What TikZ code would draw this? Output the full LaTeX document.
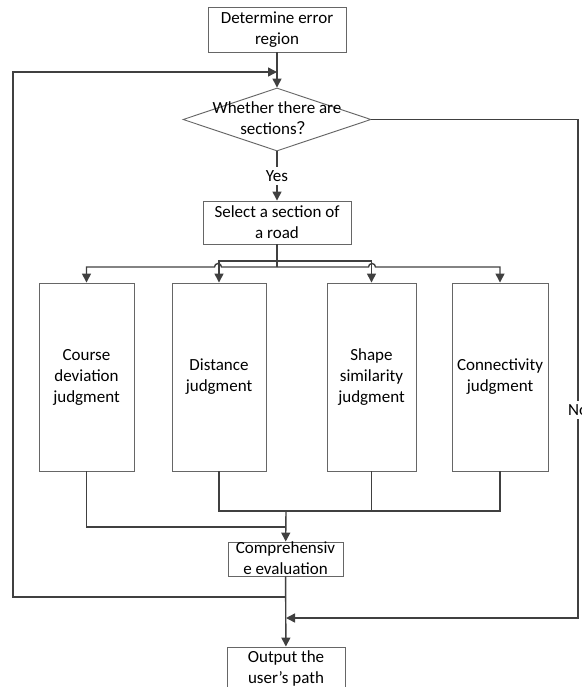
\documentclass[tikz,border=0pt]{standalone}
\usepackage{fontspec}
\setmainfont{Carlito}
\newfontfamily\cjk{Noto Sans CJK SC}
\usetikzlibrary{
    arrows.meta,
    shapes.geometric
}
\tikzset{
    box/.style={draw=black!60, line width=0.9pt, align=center, inner sep=0pt},
    ln/.style={draw=black!75, line width=1.4pt},
    arr/.style={ln, -{Triangle[length=9pt,width=9pt]}}
}

\begin{document}
\begin{tikzpicture}[x=1pt, y=-1pt, font=\fontsize{17}{21}\selectfont]
                        \useasboundingbox (0,0) rectangle (581,687);
                        \node[box, minimum width=138pt, minimum height=45pt] (top) at (277,29.5) {Determine error\\region};
                        \node[box, shape=diamond, minimum width=188pt, minimum height=63pt] (q) at (277,119.5) {};
                        \node[align=center] (qt) at (277,118.5) {Whether there are\\sections{\cjk ？}};
                        \node[box, minimum width=148pt, minimum height=43pt] (sel) at (277,222.5) {Select a section of\\a road};
                        \node[box, minimum width=95pt, minimum height=188pt] (b1) at (86.5,377) {Course\\deviation\\judgment};
                        \node[box, minimum width=94pt, minimum height=188pt] (b2) at (219,377) {Distance\\judgment};
                        \node[box, minimum width=89pt, minimum height=188pt] (b3) at (371.5,377) {Shape\\similarity\\judgment};
                        \node[box, minimum width=96pt, minimum height=188pt] (b4) at (500,377) {Connectivity\\judgment};
                        \node[box, minimum width=115pt, minimum height=34pt] (comp) at (285.5,559) {};
                        \node[align=center] (ct) at (285.5,558.5) {Comprehensiv\\e evaluation};
                        \node[box, minimum width=118pt, minimum height=43pt] (out) at (286,668.5) {Output the\\user's path};

                        \coordinate (in) at (277,72);
                        \coordinate (hi) at (277,261);
                        \coordinate (lo) at (277,267);
                        \coordinate (m2) at (286,511);
                        \coordinate (m1) at (286,527);
                        \coordinate (back) at (286,597);
                        \coordinate (join) at (286,618);
                        \coordinate (lft) at (13,300);
                        \coordinate (rgt) at (578,300);

                        \draw[arr] (top) -- (q);
                        \draw[arr] (q) -- node[fill=white, inner sep=3pt] (yes) {Yes} (sel);
                        \draw[ln] (sel) -- (lo);
                        \draw[arr] (lo) -- ++(-55.5,0) arc[start angle=0, end angle=-180, radius=3.5] -| (b1);
                        \draw[arr] (lo) -- ++(91.5,0) arc[start angle=180, end angle=360, radius=3.5] -| (b4);
                        \draw[arr] (hi) -| (b2);
                        \draw[arr] (hi) -| (b3);
                        \draw
                        [ln] (b1) |- (m1)
                        (b2) |- (m2)
                        (b3) |- (m2)
                        (b4) |- (m2);
                        \draw[arr] (m2) -- (comp);
                        \draw[arr] (comp) -- (out);
                        \draw[arr] (back) -| (lft) |- (in);
                        \draw[arr] (q) -| (rgt) |- (join);
                        \node[fill=white, inner sep=3pt] (no) at (578,410) {No};
                    \end{tikzpicture}
\end{document}
